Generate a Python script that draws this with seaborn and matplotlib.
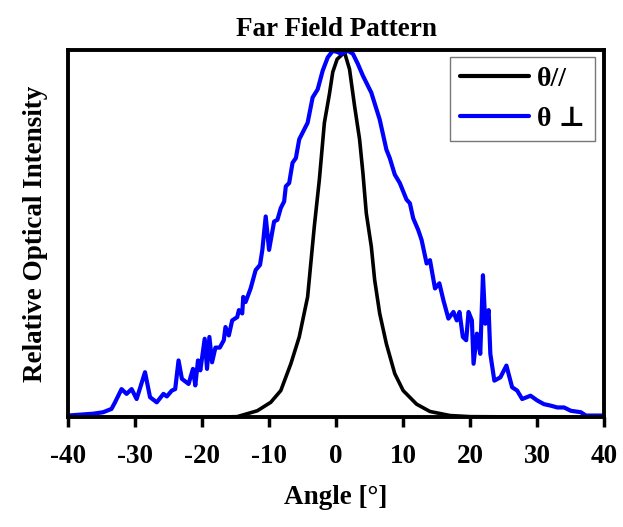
import numpy as np
import pandas as pd
import matplotlib
matplotlib.use('Agg')
import matplotlib.pyplot as plt
import seaborn as sns

# angle [deg] and relative intensity
para_angle = [-40, -20, -14.75, -11.75, -9.75, -8.25, -6.75, -5.5, -4.25, -3.25, -2.5,
              -1.75, -1, -0.5, 0.15, 1.25, 2, 2.75, 3.5, 4, 4.5, 5.25, 5.75, 6.5,
              7.5, 8.75, 10, 12, 14, 17, 20, 40]
para_int = [0.0, 0.0, 0.002, 0.018, 0.041, 0.073, 0.146, 0.219, 0.328, 0.52, 0.647,
            0.802, 0.88, 0.94, 0.975, 0.994, 0.948, 0.848, 0.757, 0.665, 0.556, 0.465,
            0.374, 0.283, 0.2, 0.119, 0.073, 0.036, 0.016, 0.005, 0.002, 0.0]

perp_angle = [-40, -36.25, -34.75, -33.5, -33, -32, -31.25, -30.5, -29.75, -28.5, -27.75,
              -26.75, -25.75, -25.25, -24.5, -24, -23.5, -23, -22, -21.35, -21, -20.6,
              -20.25, -19.6, -19.25, -18.9, -18.5, -18, -17.35, -16.75, -16.5, -16,
              -15.5, -14.75, -14.5, -14, -13.85, -13.5, -12.75, -12, -11.35, -11, -10.5,
              -10, -9.25, -8.75, -8.25, -7.75, -7.5, -7, -6.5, -6, -5.5, -4.25, -3.5,
              -2.75, -2, -1.25, -0.5, 0.15, 0.75, 1.75, 2.5, 3.25, 4, 5.25, 6.5, 7.5,
              8, 8.75, 9.5, 10.5, 11, 11.5, 12.25, 12.75, 13.5, 14, 14.75, 15.4, 16,
              16.75, 17.5, 18, 18.4, 18.9, 19.4, 19.75, 20.25, 20.5, 21, 21.5, 21.9,
              22.25, 22.75, 23, 23.6, 24.5, 25.4, 26.25, 27, 27.75, 29, 30, 31, 32, 33,
              34, 35, 36.5, 37.25, 40]
perp_int = [0.005, 0.01, 0.014, 0.023, 0.04, 0.077, 0.064, 0.077, 0.05, 0.123, 0.055,
            0.041, 0.064, 0.057, 0.073, 0.077, 0.155, 0.105, 0.091, 0.132, 0.087, 0.155,
            0.128, 0.214, 0.132, 0.219, 0.15, 0.19, 0.19, 0.21, 0.246, 0.223,
            0.264, 0.273, 0.292, 0.283, 0.328, 0.314, 0.351, 0.401, 0.415, 0.456, 0.547,
            0.456, 0.533, 0.538, 0.57, 0.588, 0.629, 0.638, 0.693, 0.706, 0.757, 0.802, 0.871,
            0.893, 0.944, 0.98, 0.998, 0.995, 0.99, 0.998, 0.99, 0.962, 0.93, 0.884, 0.811, 0.729,
            0.706, 0.661, 0.638, 0.593, 0.583, 0.542, 0.51, 0.483, 0.419, 0.428, 0.351, 0.365, 0.319,
            0.269, 0.287, 0.264, 0.287, 0.219, 0.21, 0.287, 0.264, 0.146, 0.228, 0.173, 0.387,
            0.255, 0.292, 0.173, 0.1, 0.109, 0.141, 0.082, 0.073, 0.05, 0.059, 0.046, 0.036, 0.032, 0.027,
            0.027, 0.018, 0.014, 0.005, 0.005]

df = pd.concat([
    pd.DataFrame({'Angle': para_angle, 'Intensity': para_int, 'series': 'θ//'}),
    pd.DataFrame({'Angle': perp_angle, 'Intensity': perp_int, 'series': 'θ ⊥'}),
])

sns.set_style('white')
plt.rcParams['font.family'] = ['Liberation Serif', 'DejaVu Serif']
plt.rcParams['font.weight'] = 'bold'
plt.rcParams['axes.unicode_minus'] = False
plt.rcParams['text.color'] = 'black'
plt.rcParams['axes.labelcolor'] = 'black'
plt.rcParams['xtick.color'] = 'black'

fig = plt.figure(figsize=(6.23, 5.27), dpi=100)
ax = fig.add_axes([0.109, 0.208, 0.861, 0.697])

sns.lineplot(data=df, x='Angle', y='Intensity', hue='series', sort=False,
             palette={'θ//': 'black', 'θ ⊥': '#0000ff'}, linewidth=3.0, ax=ax)
ax.lines[0].set_linewidth(2.6)

ax.set_xlim(-40, 40)
ax.set_ylim(0, 1.0)
ax.set_xticks(range(-40, 41, 10))
ax.set_yticks([])
ax.tick_params(axis='x', direction='out', length=7, width=2.5, labelsize=19.5, pad=12,
               bottom=True, colors='black')
for lab in ax.get_xticklabels():
    lab.set_fontweight('bold')
for sp in ax.spines.values():
    sp.set_linewidth(2.8)
    sp.set_color('black')

ax.set_title('Far Field Pattern', fontsize=19.5, fontweight='bold', pad=10)
ax.set_xlabel('Angle [°]', fontsize=19.5, fontweight='bold', labelpad=12)
ax.set_ylabel('Relative Optical Intensity', fontsize=19.5, fontweight='bold', labelpad=14)

leg = ax.legend(loc='upper right', bbox_to_anchor=(0.983, 0.981), borderaxespad=0,
                fontsize=20, frameon=True, fancybox=False, edgecolor='#555555',
                handlelength=2.5, handletextpad=0.3, borderpad=0.35, labelspacing=0.5)
leg.get_frame().set_linewidth(1.0)
for t in leg.get_texts():
    t.set_fontweight('bold')
for h in leg.get_lines():
    h.set_linewidth(3.0)

fig.savefig('out.png', dpi=100)
